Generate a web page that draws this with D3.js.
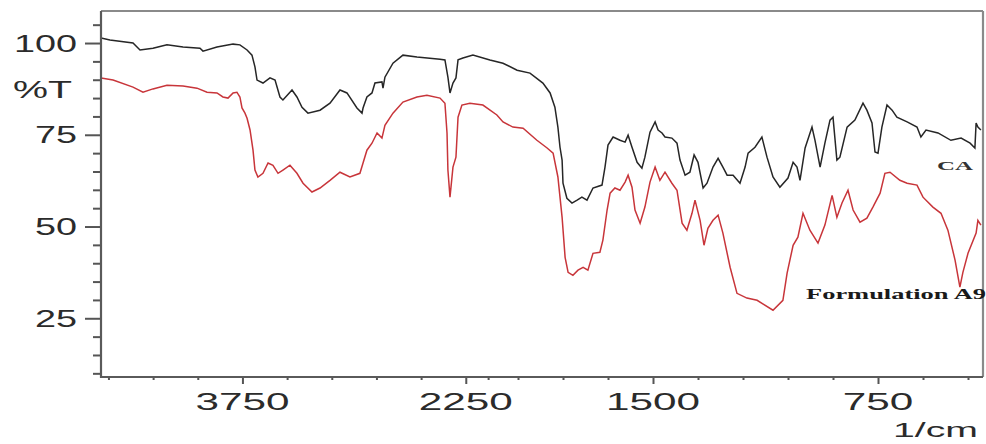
<!DOCTYPE html>
<html><head><meta charset="utf-8">
<script src="https://cdn.jsdelivr.net/npm/d3@7/dist/d3.min.js"></script>
<style>html,body{margin:0;padding:0;background:#fff;}svg{display:block;}</style>
</head><body>
<svg id="c" width="986" height="444"></svg>
<script>
// wavenumber (1/cm) and %T
const caWn = [4700,4640,4485,4438,4351,4257,4149,4035,4015,3921,3813,3767,3719,3686,3666,3652,3612,3565,3531,3498,3478,3417,3384,3350,3310,3229,3162,3095,3048,2981,2947,2940,2914,2880,2860,2813,2806,2793,2739,2672,2578,2423,2390,2370,2356,2336,2316,2302,2269,2202,2088,2000,1953,1910,1867,1843,1827,1817,1810,1803,1800,1787,1770,1753,1737,1720,1700,1670,1660,1650,1633,1610,1593,1583,1570,1553,1537,1527,1510,1493,1483,1470,1460,1437,1420,1410,1393,1377,1363,1350,1333,1320,1300,1283,1267,1253,1233,1210,1193,1183,1160,1137,1120,1100,1077,1050,1033,1020,1010,993,970,960,943,927,910,900,887,877,853,827,800,787,770,760,750,737,720,703,687,653,620,607,590,550,507,473,443,427,423,417,407];
const caT  = [101.4,100.8,100,98.1,98.6,99.5,98.9,98.6,97.8,98.9,99.7,99.5,98.1,96.7,93.5,89.9,89.1,90.5,89.9,85.3,84.5,87.2,85.3,82.5,80.9,81.7,83.6,87.2,86.4,82.3,80.9,82.3,85.3,86.4,89.1,89.4,87.7,90.7,94.5,96.7,96.2,95.6,95.4,90.7,86.4,89.1,90.5,95.4,95.9,96.7,95.4,94.5,92.6,91.8,89.1,86.4,82.5,77.1,71.6,68.1,61.8,57.7,56.4,57.2,58.0,57.2,60.5,61.3,66.2,72.2,74.4,73.5,73.0,74.9,71.6,67.5,65.9,68.9,75.7,78.5,76.3,75.5,74.4,74.1,72.7,68.1,64.0,64.8,69.5,67.5,60.5,61.8,66.2,68.6,66.2,64.0,64.0,61.8,66.2,70.0,71.6,74.4,68.9,63.5,60.7,63.2,67.5,66.2,62.6,71.4,77.1,73.5,66.2,72.7,79.0,79.8,68.1,68.9,77.1,79.0,83.6,81.7,78.2,70.3,70.0,77.1,83.1,81.7,79.8,78.5,77.1,74.4,76.3,75.5,73.5,74.1,72.7,71.4,78.2,77.1,76.3];

const a9Wn = [4700,4619,4485,4418,4351,4257,4149,4055,3988,3921,3881,3847,3813,3787,3767,3753,3733,3719,3699,3679,3666,3646,3612,3578,3545,3511,3478,3431,3384,3343,3283,3229,3162,3095,3028,2961,2940,2914,2880,2846,2813,2793,2739,2672,2578,2511,2423,2390,2376,2370,2356,2336,2316,2302,2276,2222,2135,2041,2000,1967,1933,1887,1853,1833,1817,1803,1793,1783,1767,1750,1733,1717,1700,1677,1667,1653,1643,1627,1610,1593,1583,1570,1560,1543,1527,1510,1493,1477,1460,1437,1420,1403,1387,1370,1360,1343,1330,1317,1300,1283,1267,1243,1220,1187,1153,1100,1067,1053,1033,1017,1000,977,950,927,903,887,870,850,833,810,787,767,743,727,710,677,653,620,600,567,540,517,493,477,467,450,423,417,407];
const a9T  = [90.5,89.9,88.0,86.6,87.5,88.5,88.3,87.7,86.6,86.4,85.3,85.0,86.4,86.6,85.3,82.3,80.9,79.5,76.3,70.8,65.4,63.5,64.5,67.3,66.7,64.5,65.4,66.7,64.5,61.8,59.4,60.5,62.6,64.8,63.5,64.5,67.3,70.8,72.7,75.5,74.1,77.6,80.9,83.9,85.3,85.8,85.0,83.6,75.5,65.4,58.0,66.2,68.9,79.8,83.1,83.6,83.1,80.4,78.5,77.1,76.8,73.5,71.4,70.0,63.5,52.5,41.6,37.5,36.7,38.1,38.9,38.1,42.7,43.0,46.3,54.5,59.1,60.5,59.9,62.1,64.0,60.7,54.5,50.9,55.3,62.1,66.2,62.6,64.8,61.8,59.9,50.9,49.0,53.6,57.2,51.7,44.9,49.5,51.7,53.1,48.2,38.9,31.8,30.5,29.9,27.2,29.9,37.3,44.9,47.1,53.6,49.0,45.5,50.4,58.5,52.5,56.4,59.9,54.5,51.2,52.3,55.3,59.1,64.5,64.8,62.6,61.8,61.3,58.0,55.3,53.6,49.0,40.8,33.5,37.5,42.7,48.2,51.7,50.4];

const yMajor = [25,50,75,100];
const yMinor = [10,15,20,30,35,40,45,55,60,65,70,80,85,90,95,105];
const xMajor = [3750,2250,1500,750];
const xMinor = [4650,4350,4050,3450,3150,2850,2550,2100,1950,1800,1650,1350,1200,1050,900,600,450];
const yLabels = ["25","50","75","100"];
const xLabels = ["3750","2250","1500","750"];

const svg = d3.select("#c");
// FTIR axis: scale changes at 2000 1/cm
const x = d3.scaleLinear().domain([4700,2000,400]).range([101,503,983]);
const y = d3.scaleLinear().domain([9,109]).range([377,10]);

// frame top/right
svg.append("line").attr("x1",101).attr("x2",983).attr("y1",11).attr("y2",11).attr("stroke","#8a8a8a").attr("stroke-width",2.2);
svg.append("line").attr("x1",983).attr("x2",983).attr("y1",11).attr("y2",377).attr("stroke","#8a8a8a").attr("stroke-width",2.2);

const line = d3.line().x(d=>x(d[0])).y(d=>y(d[1]));
svg.append("defs").append("clipPath").attr("id","pc").append("rect").attr("x",101).attr("y",11).attr("width",882).attr("height",366);
svg.append("path").datum(a9Wn.map((w,i)=>[w,a9T[i]])).attr("d",line).attr("fill","none").attr("stroke","#c8353a").attr("stroke-width",1.5).attr("clip-path","url(#pc)");
svg.append("path").datum(caWn.map((w,i)=>[w,caT[i]])).attr("d",line).attr("fill","none").attr("stroke","#262626").attr("stroke-width",1.5).attr("clip-path","url(#pc)");

// axes
const yAx = svg.append("g").attr("transform","translate(101,0)");
yAx.call(d3.axisLeft(y).tickValues(yMinor).tickSize(8).tickFormat(""));
yAx.append("g").call(d3.axisLeft(y).tickValues(yMajor).tickSize(16).tickFormat(""));
const xAx = svg.append("g").attr("transform","translate(0,377)");
xAx.call(d3.axisBottom(x).tickValues(xMinor).tickSize(3).tickFormat(""));
xAx.append("g").call(d3.axisBottom(x).tickValues(xMajor).tickSize(7).tickFormat(""));
svg.selectAll(".domain").remove();
svg.selectAll(".tick line").attr("stroke","#555").attr("stroke-width",2);
svg.append("line").attr("x1",101).attr("x2",101).attr("y1",11).attr("y2",378).attr("stroke","#5a5a5a").attr("stroke-width",2.2);
svg.append("line").attr("x1",100).attr("x2",983).attr("y1",377).attr("y2",377).attr("stroke","#5a5a5a").attr("stroke-width",2.2);

function wide(txt, x0, base, w, size, fam, weight, fill){
  svg.append("text").attr("x",x0).attr("y",base).attr("font-family",fam).attr("font-size",size)
    .attr("font-weight",weight||"normal").attr("fill",fill||"#2b2b2b")
    .attr("textLength",w).attr("lengthAdjust","spacingAndGlyphs").text(txt);
}
const sans = "Liberation Sans, Arial, sans-serif";
yLabels.forEach((t,i)=>{
  const w = t.length*21;
  wide(t, 77-w, y(yMajor[i])+8.5, w, 23, sans);
});
wide("%T", 13, 98, 59, 23, sans);
xLabels.forEach((t,i)=>{
  const w = t.length*23.5;
  wide(t, x(xMajor[i])-w/2, 410, w, 24, sans);
});
wide("1/cm", 893, 437, 85, 21, sans);
const serif = "Liberation Serif, Times New Roman, serif";
wide("CA", 937, 170, 36, 12.5, serif, "bold", "#333");
wide("Formulation A9", 806, 299, 180, 14, serif, "bold", "#1a1a1a");
</script>
</body></html>
